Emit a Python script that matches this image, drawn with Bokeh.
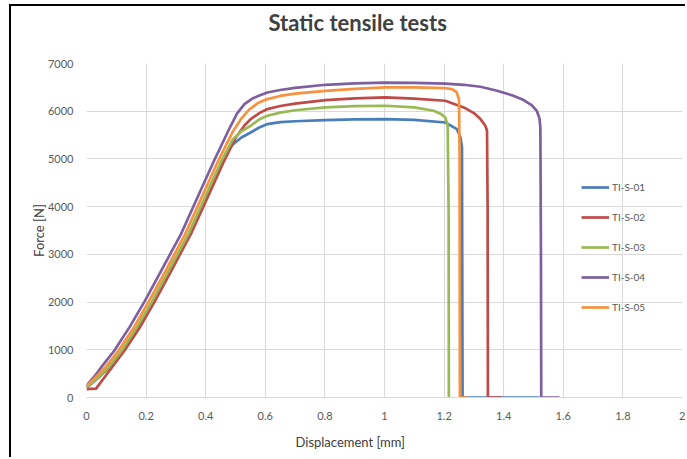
from bokeh.plotting import figure
from bokeh.models import Range1d, Legend, LegendItem, FixedTicker, NumeralTickFormatter, Title
from bokeh.embed import file_html
from bokeh.resources import INLINE

# ---------------- data ----------------
series_names = ["TI-S-01", "TI-S-02", "TI-S-03", "TI-S-04", "TI-S-05"]
series_colors = ["#4A7EBB", "#BE4B48", "#98B954", "#7D60A0", "#F69240"]

x_s01 = [0, 0.037, 0.076, 0.12, 0.172, 0.223, 0.277, 0.344, 0.397, 0.455, 0.49, 0.52, 0.551, 0.58,
         0.607, 0.65, 0.7, 0.802, 0.9, 1.003, 1.1, 1.204, 1.243, 1.255, 1.26, 1.261, 1.262, 1.52]
f_s01 = [200, 400, 630, 979, 1480, 2026, 2650, 3425, 4160, 4961, 5300, 5450, 5554, 5660,
         5730, 5770, 5790, 5814, 5830, 5835, 5820, 5764, 5625, 5450, 5240, 2500, 0, 0]

x_s02 = [0, 0.032, 0.06, 0.085, 0.127, 0.18, 0.23, 0.284, 0.35, 0.404, 0.462, 0.5, 0.53, 0.551, 0.58,
         0.607, 0.65, 0.7, 0.802, 0.9, 1.003, 1.1, 1.204, 1.266, 1.3, 1.322, 1.338, 1.344, 1.346, 1.347, 1.394]
f_s02 = [175, 185, 420, 630, 979, 1480, 2026, 2650, 3425, 4160, 4961, 5440, 5700, 5835, 5960,
         6045, 6110, 6160, 6233, 6270, 6288, 6265, 6219, 6079, 5960, 5835, 5700, 5590, 4000, 0, 0]

x_s03 = [0, 0.035, 0.074, 0.118, 0.17, 0.221, 0.275, 0.342, 0.395, 0.453, 0.49, 0.52, 0.551, 0.58,
         0.607, 0.65, 0.7, 0.802, 0.9, 1.003, 1.1, 1.165, 1.19, 1.204, 1.212, 1.215, 1.216, 1.22]
f_s03 = [210, 400, 630, 979, 1480, 2026, 2650, 3425, 4160, 4961, 5400, 5580, 5695, 5830,
         5905, 5970, 6020, 6079, 6105, 6114, 6080, 6009, 5940, 5869, 5700, 4000, 0, 0]

x_s04 = [0, 0.025, 0.049, 0.093, 0.145, 0.196, 0.25, 0.317, 0.37, 0.428, 0.475, 0.505, 0.53, 0.555,
         0.58, 0.607, 0.65, 0.7, 0.802, 0.9, 1.003, 1.1, 1.204, 1.266, 1.322, 1.378, 1.43, 1.467,
         1.495, 1.511, 1.52, 1.523, 1.525, 1.526, 1.587]
f_s04 = [245, 430, 630, 979, 1480, 2026, 2650, 3425, 4160, 4961, 5580, 5950, 6150, 6260,
         6330, 6393, 6445, 6490, 6554, 6585, 6600, 6595, 6580, 6554, 6512, 6428, 6330, 6233,
         6120, 6009, 5850, 5660, 3000, 0, 0]

x_s05 = [0, 0.03, 0.063, 0.107, 0.16, 0.21, 0.265, 0.331, 0.384, 0.442, 0.49, 0.52, 0.545, 0.575,
         0.607, 0.65, 0.7, 0.802, 0.9, 1.003, 1.1, 1.204, 1.228, 1.242, 1.25, 1.252, 1.253, 1.28]
f_s05 = [235, 420, 630, 979, 1480, 2026, 2650, 3425, 4160, 4961, 5560, 5850, 6030, 6170,
         6254, 6320, 6370, 6428, 6470, 6498, 6500, 6485, 6460, 6400, 6250, 5000, 0, 0]

x_ticks = [0, 0.2, 0.4, 0.6, 0.8, 1.0, 1.2, 1.4, 1.6, 1.8, 2.0]
y_ticks = [0, 1000, 2000, 3000, 4000, 5000, 6000, 7000]

title_text = "Static tensile tests"
x_title = "Displacement [mm]"
y_title = "Force [N]"

# ---------------- figure ----------------
FONT = "Lato"
p = figure(width=676, height=453, output_backend="svg", toolbar_location=None, title=None,
           x_range=Range1d(0, 2), y_range=Range1d(0, 7000),
           min_border_left=75, min_border_right=5, min_border_top=57, min_border_bottom=62)
p.styles = {"margin-left": "9px", "margin-top": "4px",
            "border-left": "2px solid #000000", "border-top": "2px solid #000000"}
p.outline_line_color = None
p.background_fill_color = "white"
p.border_fill_color = "white"

for ax in (p.xaxis, p.yaxis):
    ax.major_tick_line_color = None
    ax.minor_tick_line_color = None
    ax.major_label_text_font = FONT
    ax.major_label_text_font_size = "11px"
    ax.major_label_text_color = "#595959"
p.xaxis.ticker = FixedTicker(ticks=x_ticks)
p.yaxis.ticker = FixedTicker(ticks=y_ticks)
p.xaxis.formatter = NumeralTickFormatter(format="0.[0]")
p.yaxis.formatter = NumeralTickFormatter(format="0")
p.xaxis.axis_line_color = "#d9d9d9"
p.yaxis.axis_line_color = None
p.xaxis.major_label_standoff = 8
p.yaxis.major_label_standoff = 7

p.yaxis.axis_label = y_title
p.yaxis.axis_label_standoff = -2
p.yaxis.axis_label_text_font = FONT
p.yaxis.axis_label_text_font_size = "13px"
p.yaxis.axis_label_text_font_style = "normal"
p.yaxis.axis_label_text_color = "#404040"

p.xgrid.ticker = FixedTicker(ticks=x_ticks)
p.ygrid.ticker = FixedTicker(ticks=y_ticks)
for g in (p.xgrid, p.ygrid):
    g.grid_line_color = "#d9d9d9"
    g.grid_line_width = 1

xs = [x_s01, x_s02, x_s03, x_s04, x_s05]
fs = [f_s01, f_s02, f_s03, f_s04, f_s05]
items = []
for name, col, xv, fv in zip(series_names, series_colors, xs, fs):
    r = p.line(xv, fv, line_color=col, line_width=2.7, line_join="round")
    items.append(LegendItem(label=name, renderers=[r]))

legend = Legend(items=items, location=(495, 80), orientation="vertical",
                glyph_width=28, glyph_height=20, label_height=20, label_standoff=3,
                spacing=10, padding=0, margin=0, border_line_color=None,
                background_fill_alpha=0, label_text_font=FONT,
                label_text_font_size="10px", label_text_color="#595959")
p.add_layout(legend)

# spacer between the chart title and the plot area, then the title itself
p.add_layout(Title(text=" ", standoff=14, text_font=FONT, text_font_size="10px"), "above")
p.add_layout(Title(text=title_text, align="left", offset=182, standoff=0,
                   text_font=FONT, text_font_size="22px", text_font_style="bold",
                   text_color="#404040"), "above")
p.add_layout(Title(text=x_title, align="left", offset=209, standoff=18, text_font=FONT,
                   text_font_size="13px", text_font_style="normal", text_color="#404040"),
             "below")

open("out.html", "w").write(file_html(p, INLINE))
